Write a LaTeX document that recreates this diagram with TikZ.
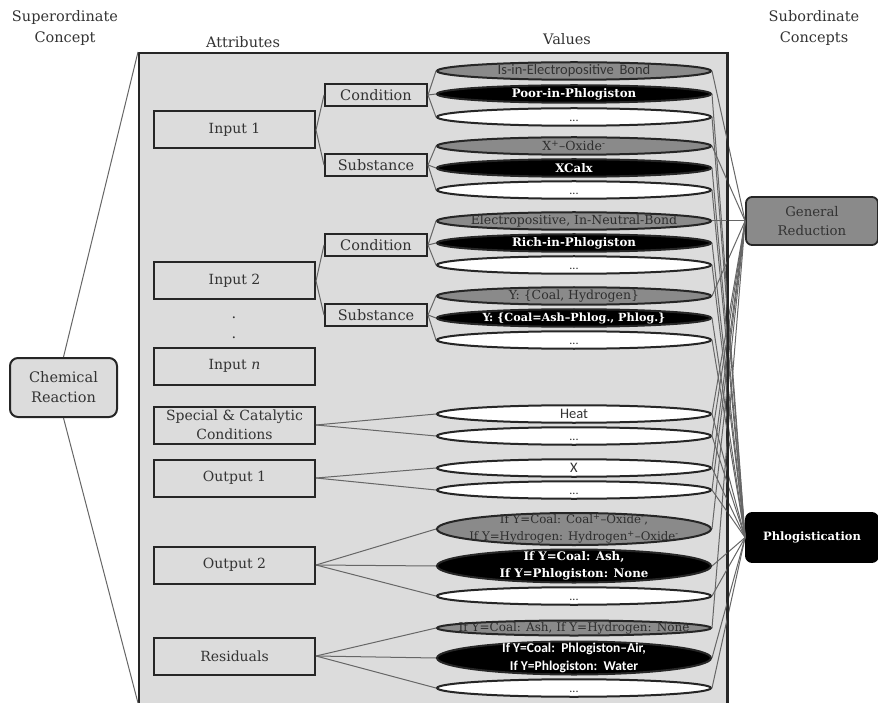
\documentclass[tikz,border=0pt]{standalone}
\usepackage{fontspec}
\setmainfont{DejaVu Serif}
\newfontfamily\carl{Carlito}
\usetikzlibrary{shapes.geometric}
\definecolor{bgbox}{HTML}{DCDCDC}
\definecolor{midgrey}{HTML}{8A8A8A}
\definecolor{txtgrey}{HTML}{333333}
\definecolor{linegrey}{HTML}{666666}
\tikzset{
  attr/.style={draw=black!85, line width=2pt, fill=bgbox, minimum width=161pt, minimum height=37pt, inner sep=0pt, align=center, text=txtgrey, font=\fontsize{14}{17}\selectfont},
  subattr/.style={draw=black!85, line width=2pt, fill=bgbox, minimum width=102pt, minimum height=22pt, inner sep=0pt, text=txtgrey, font=\fontsize{14.5}{17}\selectfont},
  val/.style={ellipse, draw=black!85, line width=2pt, minimum width=274pt, minimum height=17.5pt, inner sep=0pt},
  gv/.style={val, fill=midgrey},
  bv/.style={val, fill=black},
  wv/.style={val, fill=white},
  gtxt/.style={text=txtgrey!90!black, align=center, inner sep=0pt, font=\fontsize{12.5}{18}\selectfont},
  btxt/.style={text=white, align=center, inner sep=0pt, font=\fontsize{11.8}{17}\selectfont\bfseries},
  stxt/.style={text=txtgrey, align=center, inner sep=0pt, font=\carl\fontsize{14.5}{16}\selectfont},
  dtxt/.style={text=txtgrey, inner sep=0pt, yshift=-4pt, font=\carl\fontsize{12}{13}\selectfont},
  hdr/.style={text=txtgrey, align=center, inner sep=0pt, font=\fontsize{14.5}{21}\selectfont},
  conn/.style={draw=linegrey, line width=1pt},
}
\begin{document}
\begin{tikzpicture}[x=1pt,y=-1pt]
\useasboundingbox (0,0) rectangle (878,703);
% headers
\node[hdr] (h1) at (65,28) {Superordinate\\Concept};
\node[hdr] (h2) at (243,42) {Attributes};
\node[hdr] (h3) at (567,39) {Values};
\node[hdr] (h4) at (814,28) {Subordinate\\Concepts};
% frame
\node[draw=black!85, line width=2pt, fill=bgbox, minimum width=588pt, minimum height=670pt, inner sep=0pt, anchor=north west] (frame) at (138,52) {};
\coordinate (fbl) at (138,703);
% chemical reaction
\node[draw=black!85, line width=2pt, fill=bgbox, rounded corners=8pt, minimum width=107pt, minimum height=59pt, align=center, text=txtgrey, font=\fontsize{14.5}{20}\selectfont] (cr) at (63.5,387.5) {Chemical\\Reaction};
\draw[conn] (cr.north) -- (frame.north west);
\draw[conn] (cr.south) -- (fbl);
% attributes
\node[attr] (in1) at (234.5,130) {Input 1};
\node[attr] (in2) at (234.5,281) {Input 2};
\node[hdr] (dt1) at (234,318) {.};
\node[hdr] (dt2) at (234,338) {.};
\node[attr] (inn) at (234.5,366) {Input \textit{n}};
\node[attr, font=\fontsize{14}{18.5}\selectfont] (spc) at (234.5,425) {Special \& Catalytic\\Conditions};
\node[attr] (out1) at (234.5,478) {Output 1};
\node[attr] (out2) at (234.5,565) {Output 2};
\node[attr] (res) at (234.5,656) {Residuals};
\node[subattr] (c1) at (376,95) {Condition};
\node[subattr] (s1) at (376,165) {Substance};
\node[subattr] (c2) at (376,245) {Condition};
\node[subattr] (s2) at (376,315) {Substance};
% values
\node[gv] (g1) at (574,71) {};
\node[bv] (b1) at (574,94) {};
\node[wv] (w1) at (574,117) {};
\node[gv] (g2) at (574,146) {};
\node[bv] (b2) at (574,168) {};
\node[wv] (w2) at (574,190) {};
\node[gv] (g3) at (574,221) {};
\node[bv] (b3) at (574,243) {};
\node[wv] (w3) at (574,265) {};
\node[gv] (g4) at (574,296) {};
\node[bv] (b4) at (574,318) {};
\node[wv] (w4) at (574,340) {};
\node[wv] (hh) at (574,414) {};
\node[wv] (w5) at (574,436) {};
\node[wv] (xx) at (574,468) {};
\node[wv] (w6) at (574,490) {};
\node[gv, minimum height=32pt] (g5) at (574,529) {};
\node[bv, minimum height=33pt] (b5) at (574,566) {};
\node[wv] (w7) at (574,596) {};
\node[gv, minimum height=15pt] (g6) at (574,628) {};
\node[bv, minimum height=33pt] (b6) at (574,658) {};
\node[wv] (w8) at (574,688) {};
% value texts
\node[stxt] (g1t) at (g1) {Is-in-Electropositive\, Bond};
\node[btxt] (b1t) at (b1) {Poor-in-Phlogiston};
\node[gtxt] (g2t) at (g2) {X\textsuperscript{+}–Oxide\textsuperscript{-}};
\node[btxt] (b2t) at (b2) {XCalx};
\node[gtxt] (g3t) at (g3) {Electropositive, In-Neutral-Bond};
\node[btxt] (b3t) at (b3) {Rich-in-Phlogiston};
\node[gtxt] (g4t) at (g4) {Y: \{Coal, Hydrogen\}};
\node[btxt, font=\fontsize{11.2}{17}\selectfont\bfseries] (b4t) at (b4) {Y: \{Coal=Ash–Phlog., Phlog.\}};
\node[stxt] (hht) at (hh) {Heat};
\node[stxt] (xxt) at (xx) {X};
\node[gtxt, font=\fontsize{11.8}{17}\selectfont] (g5t) at (g5) {If Y=Coal: Coal\textsuperscript{+}–Oxide\textsuperscript{-},\\If Y=Hydrogen: Hydrogen\textsuperscript{+}–Oxide\textsuperscript{-}};
\node[btxt] (b5t) at (b5) {If Y=Coal: Ash,\\If Y=Phlogiston: None};
\node[gtxt, font=\fontsize{12}{17}\selectfont] (g6t) at (g6) {If Y=Coal: Ash, If Y=Hydrogen: None};
\node[btxt, font=\carl\bfseries\fontsize{13.5}{18}\selectfont] (b6t) at (b6) {If Y=Coal:\, Phlogiston–Air,\\If Y=Phlogiston:\, Water};
\foreach \w in {w1,w2,w3,w4,w5,w6,w7,w8} \node[dtxt] (\w t) at (\w) {...};
% subordinate concepts
\node[draw=black!85, line width=1.8pt, rounded corners=6pt, fill=midgrey, minimum width=132pt, minimum height=48pt, align=center, text=txtgrey, font=\fontsize{13.3}{19}\selectfont] (gr) at (812,221) {General\\Reduction};
\node[draw=black, line width=1.8pt, rounded corners=6pt, fill=black, minimum width=132pt, minimum height=49pt, text=white, font=\bfseries\fontsize{11.5}{14}\selectfont] (ph) at (812,537.5) {Phlogistication};
% attribute connectors
\draw[conn] (in1.east) -- (c1.west);
\draw[conn] (in1.east) -- (s1.west);
\draw[conn] (in2.east) -- (c2.west);
\draw[conn] (in2.east) -- (s2.west);
\foreach \s/\a/\b/\c in {c1/g1/b1/w1, s1/g2/b2/w2, c2/g3/b3/w3, s2/g4/b4/w4, out2/g5/b5/w7, res/g6/b6/w8} {
  \draw[conn] (\s.east) -- (\a.west);
  \draw[conn] (\s.east) -- (\b.west);
  \draw[conn] (\s.east) -- (\c.west);
}
\draw[conn] (spc.east) -- (hh.west);
\draw[conn] (spc.east) -- (w5.west);
\draw[conn] (out1.east) -- (xx.west);
\draw[conn] (out1.east) -- (w6.west);
% right connectors
\foreach \e in {g1,g2,g3,g4,g5,g6,hh,w5,xx,w6} \draw[conn] (\e.east) -- (gr.west);
\foreach \e in {b1,w1,b2,w2,b3,w3,b4,w4,hh,w5,xx,w6,b5,w7,b6,w8} \draw[conn] (\e.east) -- (ph.west);
% frame right edge on top
\draw[black!85, line width=2pt] (frame.north east) -- (frame.south east);
\end{tikzpicture}
\end{document}
